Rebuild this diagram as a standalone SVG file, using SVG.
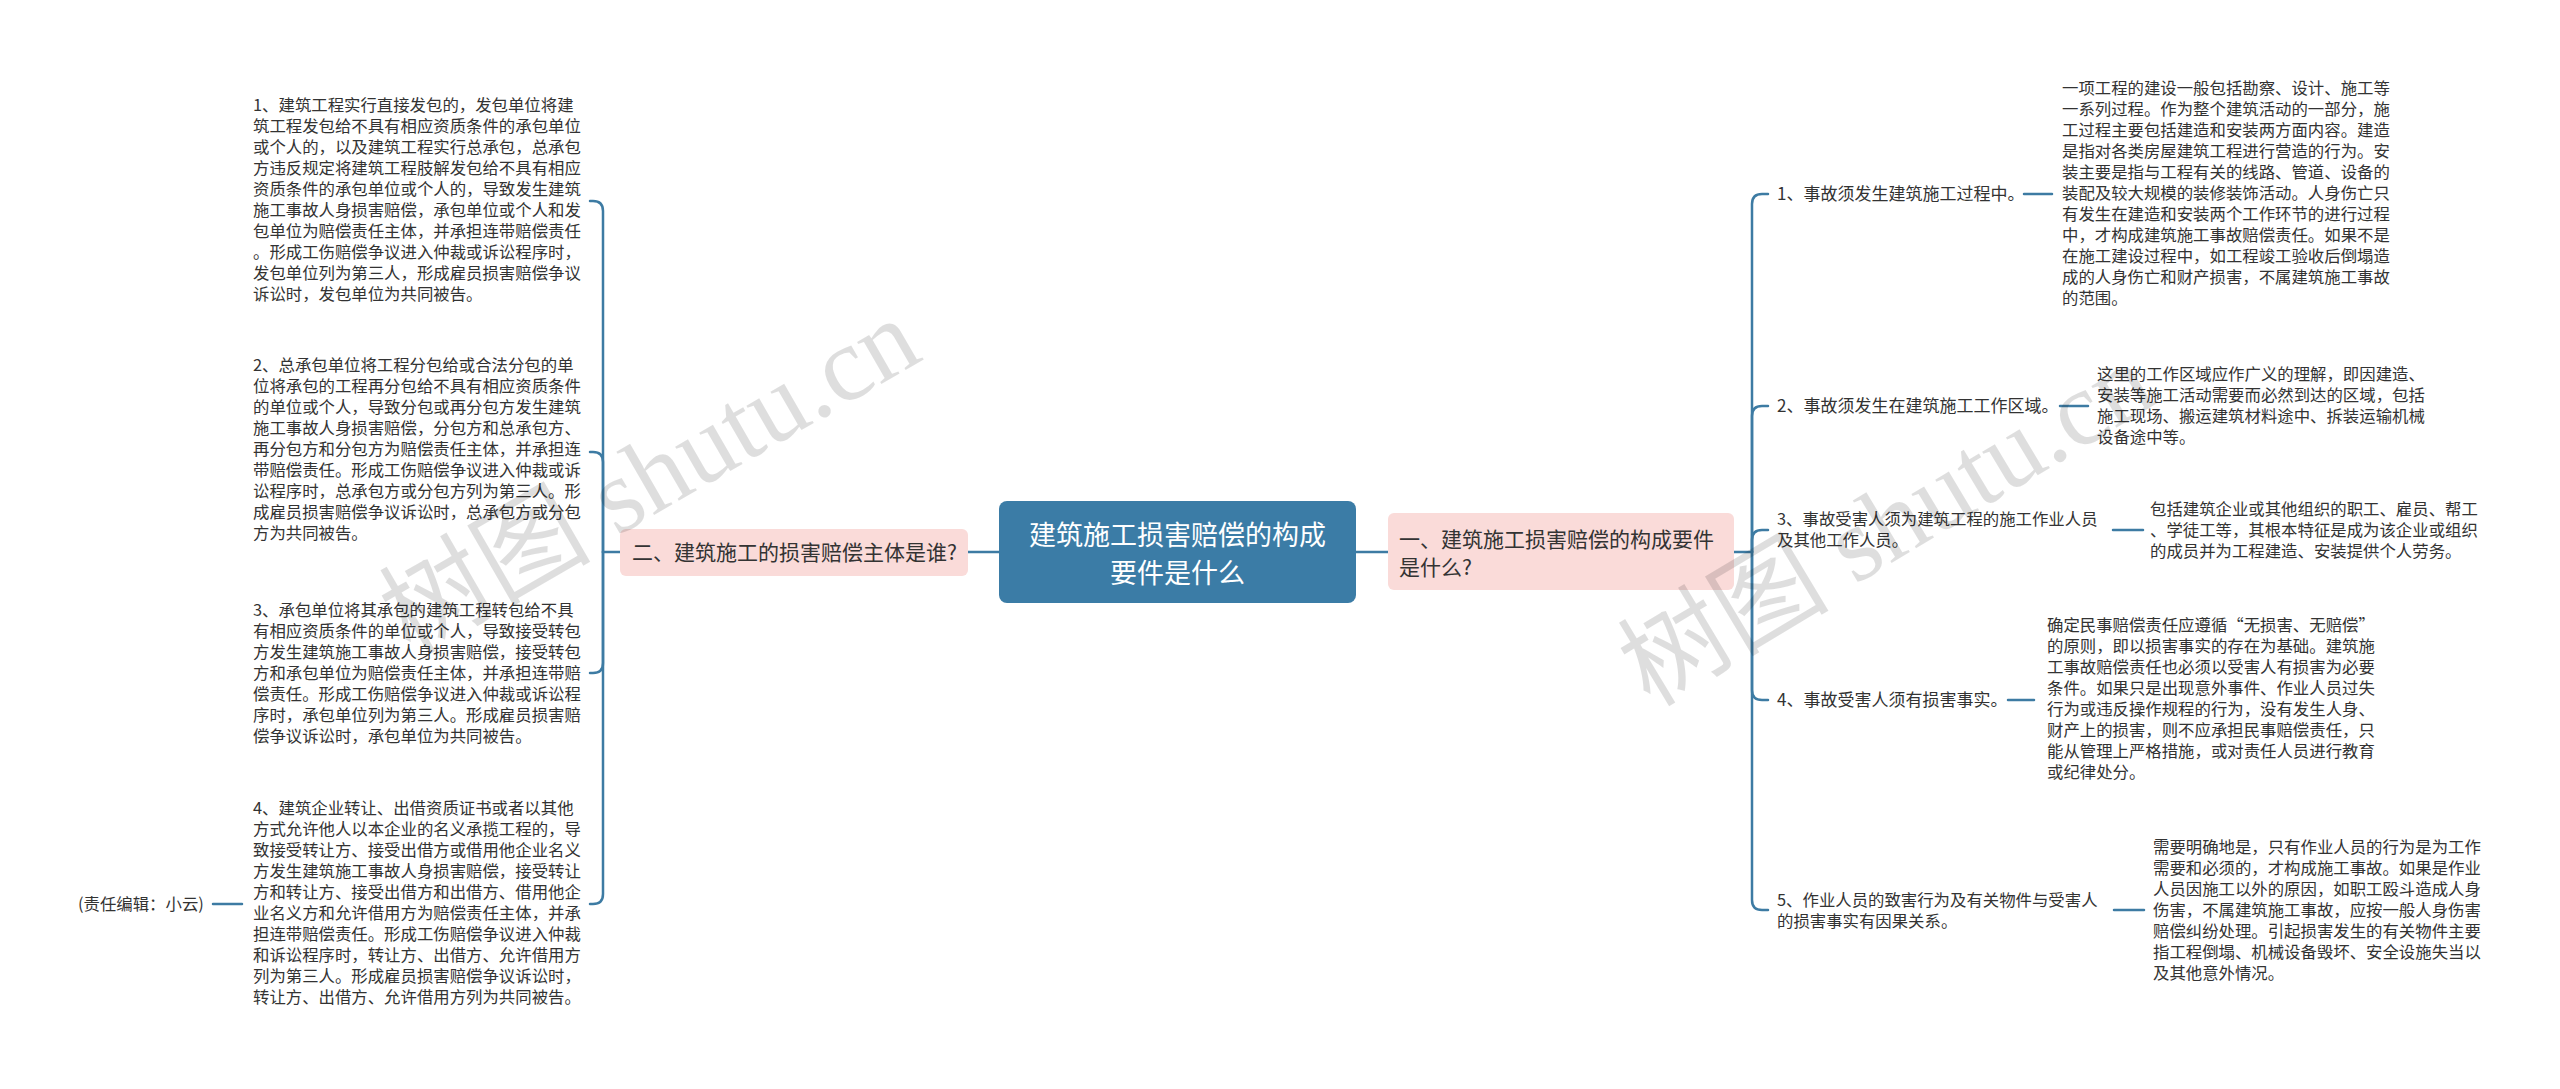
<svg xmlns="http://www.w3.org/2000/svg" width="2560" height="1089" viewBox="0 0 2560 1089">
<style>
  text { font-family: "Noto Sans CJK SC", "Noto Sans", sans-serif; fill: #333333; }
  .body { font-size: 16.4px; }
  .lbl { font-size: 17px; }
  .lbl2 { font-size: 16.4px; }
  .sub { font-size: 21px; fill: #333333; }
  .root { font-size: 27px; fill: #ffffff; }
  .conn path { fill: none; stroke: #3d7ba3; stroke-width: 2.5; stroke-linecap: round; }
  .pink { fill: #fadbd9; }
  .wm { font-family: "Liberation Serif", "Noto Sans CJK SC", serif; font-size: 106px; fill: #000000; fill-opacity: 0.13; }
</style>

<rect x="0" y="0" width="2560" height="1089" fill="#ffffff"/>

<g id="connectors" class="conn">
  <path d="M968,552 H999"/>
  <path d="M1356,552 H1388"/>
  <path d="M620,552 H603"/>
  <path d="M603,552 V211 Q603,201 593,201 H590"/>
  <path d="M603,552 V462 Q603,452 593,452 H590"/>
  <path d="M603,552 V663 Q603,673 593,673 H590"/>
  <path d="M603,552 V894 Q603,904 593,904 H590"/>
  <path d="M242,904 H213"/>
  <path d="M1734,552 H1752"/>
  <path d="M1752,552 V204 Q1752,194 1762,194 H1768"/>
  <path d="M1752,552 V416 Q1752,406 1762,406 H1768"/>
  <path d="M1752,552 V540 Q1752,530 1762,530 H1768"/>
  <path d="M1752,552 V690 Q1752,700 1762,700 H1768"/>
  <path d="M1752,552 V900 Q1752,910 1762,910 H1768"/>
  <path d="M2024,194 H2052"/>
  <path d="M2060,406 H2088"/>
  <path d="M2113,530 H2143"/>
  <path d="M2008,700 H2034"/>
  <path d="M2114,910 H2144"/>
</g>

<g id="root">
  <rect x="999" y="501" width="357" height="102" rx="8" fill="#3b7ca6"/>
  <text class="root" text-anchor="middle"><tspan x="1177.5" y="545">建筑施工损害赔偿的构成</tspan><tspan x="1177.5" y="583">要件是什么</tspan></text>
</g>

<g id="n-left">
  <rect class="pink" x="620" y="529" width="348" height="47" rx="6"/>
  <text class="sub" x="632" y="559.5">二、建筑施工的损害赔偿主体是谁?</text>
</g>

<g id="n-right">
  <rect class="pink" x="1388" y="513" width="346" height="77" rx="6"/>
  <text class="sub"><tspan x="1399" y="546.5">一、建筑施工损害赔偿的构成要件</tspan><tspan x="1399" y="574.5">是什么?</tspan></text>
</g>

<g id="l1">
  <text class="body">
    <tspan x="253" y="111">1、建筑工程实行直接发包的，发包单位将建</tspan>
    <tspan x="253" dy="21">筑工程发包给不具有相应资质条件的承包单位</tspan>
    <tspan x="253" dy="21">或个人的，以及建筑工程实行总承包，总承包</tspan>
    <tspan x="253" dy="21">方违反规定将建筑工程肢解发包给不具有相应</tspan>
    <tspan x="253" dy="21">资质条件的承包单位或个人的，导致发生建筑</tspan>
    <tspan x="253" dy="21">施工事故人身损害赔偿，承包单位或个人和发</tspan>
    <tspan x="253" dy="21">包单位为赔偿责任主体，并承担连带赔偿责任</tspan>
    <tspan x="253" dy="21">。形成工伤赔偿争议进入仲裁或诉讼程序时，</tspan>
    <tspan x="253" dy="21">发包单位列为第三人，形成雇员损害赔偿争议</tspan>
    <tspan x="253" dy="21">诉讼时，发包单位为共同被告。</tspan>
  </text>
</g>

<g id="l2">
  <text class="body">
    <tspan x="253" y="371">2、总承包单位将工程分包给或合法分包的单</tspan>
    <tspan x="253" dy="21">位将承包的工程再分包给不具有相应资质条件</tspan>
    <tspan x="253" dy="21">的单位或个人，导致分包或再分包方发生建筑</tspan>
    <tspan x="253" dy="21">施工事故人身损害赔偿，分包方和总承包方、</tspan>
    <tspan x="253" dy="21">再分包方和分包方为赔偿责任主体，并承担连</tspan>
    <tspan x="253" dy="21">带赔偿责任。形成工伤赔偿争议进入仲裁或诉</tspan>
    <tspan x="253" dy="21">讼程序时，总承包方或分包方列为第三人。形</tspan>
    <tspan x="253" dy="21">成雇员损害赔偿争议诉讼时，总承包方或分包</tspan>
    <tspan x="253" dy="21">方为共同被告。</tspan>
  </text>
</g>

<g id="l3">
  <text class="body">
    <tspan x="253" y="616">3、承包单位将其承包的建筑工程转包给不具</tspan>
    <tspan x="253" dy="21">有相应资质条件的单位或个人，导致接受转包</tspan>
    <tspan x="253" dy="21">方发生建筑施工事故人身损害赔偿，接受转包</tspan>
    <tspan x="253" dy="21">方和承包单位为赔偿责任主体，并承担连带赔</tspan>
    <tspan x="253" dy="21">偿责任。形成工伤赔偿争议进入仲裁或诉讼程</tspan>
    <tspan x="253" dy="21">序时，承包单位列为第三人。形成雇员损害赔</tspan>
    <tspan x="253" dy="21">偿争议诉讼时，承包单位为共同被告。</tspan>
  </text>
</g>

<g id="l4">
  <text class="body">
    <tspan x="253" y="814">4、建筑企业转让、出借资质证书或者以其他</tspan>
    <tspan x="253" dy="21">方式允许他人以本企业的名义承揽工程的，导</tspan>
    <tspan x="253" dy="21">致接受转让方、接受出借方或借用他企业名义</tspan>
    <tspan x="253" dy="21">方发生建筑施工事故人身损害赔偿，接受转让</tspan>
    <tspan x="253" dy="21">方和转让方、接受出借方和出借方、借用他企</tspan>
    <tspan x="253" dy="21">业名义方和允许借用方为赔偿责任主体，并承</tspan>
    <tspan x="253" dy="21">担连带赔偿责任。形成工伤赔偿争议进入仲裁</tspan>
    <tspan x="253" dy="21">和诉讼程序时，转让方、出借方、允许借用方</tspan>
    <tspan x="253" dy="21">列为第三人。形成雇员损害赔偿争议诉讼时，</tspan>
    <tspan x="253" dy="21">转让方、出借方、允许借用方列为共同被告。</tspan>
  </text>
</g>

<g id="editor">
  <text class="body" x="78" y="910">(责任编辑：小云)</text>
</g>

<g id="r1">
  <text class="lbl" x="1777" y="200">1、事故须发生建筑施工过程中。</text>
</g>
<g id="r1d">
  <text class="body">
    <tspan x="2062" y="94">一项工程的建设一般包括勘察、设计、施工等</tspan>
    <tspan x="2062" dy="21">一系列过程。作为整个建筑活动的一部分，施</tspan>
    <tspan x="2062" dy="21">工过程主要包括建造和安装两方面内容。建造</tspan>
    <tspan x="2062" dy="21">是指对各类房屋建筑工程进行营造的行为。安</tspan>
    <tspan x="2062" dy="21">装主要是指与工程有关的线路、管道、设备的</tspan>
    <tspan x="2062" dy="21">装配及较大规模的装修装饰活动。人身伤亡只</tspan>
    <tspan x="2062" dy="21">有发生在建造和安装两个工作环节的进行过程</tspan>
    <tspan x="2062" dy="21">中，才构成建筑施工事故赔偿责任。如果不是</tspan>
    <tspan x="2062" dy="21">在施工建设过程中，如工程竣工验收后倒塌造</tspan>
    <tspan x="2062" dy="21">成的人身伤亡和财产损害，不属建筑施工事故</tspan>
    <tspan x="2062" dy="21">的范围。</tspan>
  </text>
</g>

<g id="r2">
  <text class="lbl" x="1777" y="412">2、事故须发生在建筑施工工作区域。</text>
</g>
<g id="r2d">
  <text class="body">
    <tspan x="2097" y="380">这里的工作区域应作广义的理解，即因建造、</tspan>
    <tspan x="2097" dy="21">安装等施工活动需要而必然到达的区域，包括</tspan>
    <tspan x="2097" dy="21">施工现场、搬运建筑材料途中、拆装运输机械</tspan>
    <tspan x="2097" dy="21">设备途中等。</tspan>
  </text>
</g>

<g id="r3">
  <text class="lbl2"><tspan x="1777" y="525">3、事故受害人须为建筑工程的施工作业人员</tspan><tspan x="1777" dy="21">及其他工作人员。</tspan></text>
</g>
<g id="r3d">
  <text class="body">
    <tspan x="2150" y="515">包括建筑企业或其他组织的职工、雇员、帮工</tspan>
    <tspan x="2150" dy="21">、学徒工等，其根本特征是成为该企业或组织</tspan>
    <tspan x="2150" dy="21">的成员并为工程建造、安装提供个人劳务。</tspan>
  </text>
</g>

<g id="r4">
  <text class="lbl" x="1777" y="706">4、事故受害人须有损害事实。</text>
</g>
<g id="r4d">
  <text class="body">
    <tspan x="2047" y="631">确定民事赔偿责任应遵循“无损害、无赔偿”</tspan>
    <tspan x="2047" dy="21">的原则，即以损害事实的存在为基础。建筑施</tspan>
    <tspan x="2047" dy="21">工事故赔偿责任也必须以受害人有损害为必要</tspan>
    <tspan x="2047" dy="21">条件。如果只是出现意外事件、作业人员过失</tspan>
    <tspan x="2047" dy="21">行为或违反操作规程的行为，没有发生人身、</tspan>
    <tspan x="2047" dy="21">财产上的损害，则不应承担民事赔偿责任，只</tspan>
    <tspan x="2047" dy="21">能从管理上严格措施，或对责任人员进行教育</tspan>
    <tspan x="2047" dy="21">或纪律处分。</tspan>
  </text>
</g>

<g id="r5">
  <text class="lbl2"><tspan x="1777" y="906">5、作业人员的致害行为及有关物件与受害人</tspan><tspan x="1777" dy="21">的损害事实有因果关系。</tspan></text>
</g>
<g id="r5d">
  <text class="body">
    <tspan x="2153" y="853">需要明确地是，只有作业人员的行为是为工作</tspan>
    <tspan x="2153" dy="21">需要和必须的，才构成施工事故。如果是作业</tspan>
    <tspan x="2153" dy="21">人员因施工以外的原因，如职工殴斗造成人身</tspan>
    <tspan x="2153" dy="21">伤害，不属建筑施工事故，应按一般人身伤害</tspan>
    <tspan x="2153" dy="21">赔偿纠纷处理。引起损害发生的有关物件主要</tspan>
    <tspan x="2153" dy="21">指工程倒塌、机械设备毁坏、安全设施失当以</tspan>
    <tspan x="2153" dy="21">及其他意外情况。</tspan>
  </text>
</g>

<g id="watermarks">
  <text class="wm" transform="translate(410,656) rotate(-30)">树图 shutu.cn</text>
  <text class="wm" transform="translate(1650,708) rotate(-31)">树图 shutu.cn</text>
</g>
</svg>
